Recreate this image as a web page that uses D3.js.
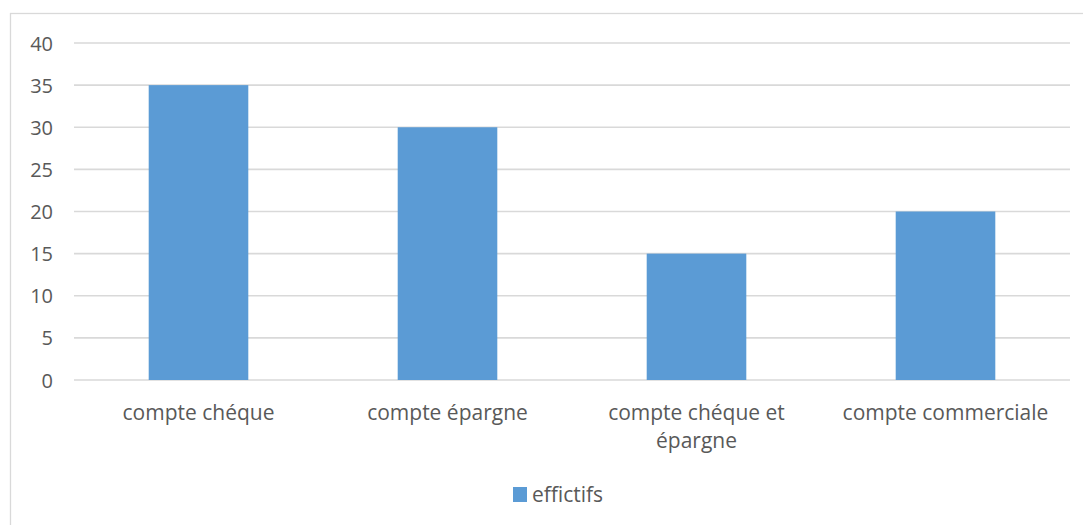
<!DOCTYPE html>
<html>
<head>
<meta charset="utf-8">
<script src="https://cdn.jsdelivr.net/npm/d3@7"></script>
<style>
  html, body { margin: 0; padding: 0; background: #fff; }
  svg text { font-family: "Open Sans", sans-serif; fill: #595959; }
</style>
</head>
<body>
<svg id="chart" width="1083" height="525"></svg>
<script>
// Account types and head counts
const categories = [["compte chéque"], ["compte épargne"], ["compte chéque et", "épargne"], ["compte commerciale"]];
const categoryKeys = ["compte chéque", "compte épargne", "compte chéque et épargne", "compte commerciale"];
const effectifs = [35, 30, 15, 20];
const yTicks = [0, 5, 10, 15, 20, 25, 30, 35, 40];
const seriesName = "effictifs";

const svg = d3.select("#chart");
const barColor = "#5b9bd5";
const gridColor = "#d9d9d9";
const fontSize = 21;

// Outer chart frame
svg.append("rect")
  .attr("x", 10.5).attr("y", 13.5)
  .attr("width", 1090).attr("height", 530)
  .attr("fill", "none").attr("stroke", gridColor).attr("stroke-width", 1.3);

const plot = { left: 74, right: 1070, top: 43, bottom: 380 };

const x = d3.scaleBand()
  .domain(categoryKeys)
  .range([plot.left, plot.right])
  .paddingInner(0.6).paddingOuter(0.3);

const y = d3.scaleLinear().domain([0, 40]).range([plot.bottom, plot.top]);

// Horizontal gridlines
svg.append("g").selectAll("line").data(yTicks).join("line")
  .attr("x1", plot.left).attr("x2", plot.right)
  .attr("y1", d => y(d)).attr("y2", d => y(d))
  .attr("stroke", gridColor).attr("stroke-width", 1.6);

// Y axis labels
const yAxis = d3.axisLeft(y).tickValues(yTicks).tickSize(0).tickPadding(0);
const yg = svg.append("g").attr("transform", `translate(53,0)`).call(yAxis);
yg.select(".domain").remove();
yg.selectAll("text").attr("font-size", 20).style("font-family", "'Open Sans', sans-serif").attr("fill", "#595959").attr("dy", "0.35em");

// Bars
svg.append("g").selectAll("rect").data(effectifs).join("rect")
  .attr("x", (d, i) => x(categoryKeys[i]))
  .attr("width", x.bandwidth())
  .attr("y", d => y(d))
  .attr("height", d => y(0) - y(d))
  .attr("fill", barColor);

// Category labels (wrapped)
const xl = svg.append("g");
categories.forEach((lines, i) => {
  const cx = x(categoryKeys[i]) + x.bandwidth() / 2;
  const t = xl.append("text")
    .attr("text-anchor", "middle")
    .attr("font-size", fontSize)
    .attr("x", cx).attr("y", 420);
  lines.forEach((ln, j) => {
    t.append("tspan").attr("x", cx).attr("dy", j === 0 ? 0 : 27.5).text(ln);
  });
});

// Legend
const legend = svg.append("g");
legend.append("rect").attr("x", 513).attr("y", 487).attr("width", 14).attr("height", 15).attr("fill", barColor);
legend.append("text").attr("x", 532).attr("y", 502).attr("font-size", fontSize).text(seriesName);
</script>
</body>
</html>
